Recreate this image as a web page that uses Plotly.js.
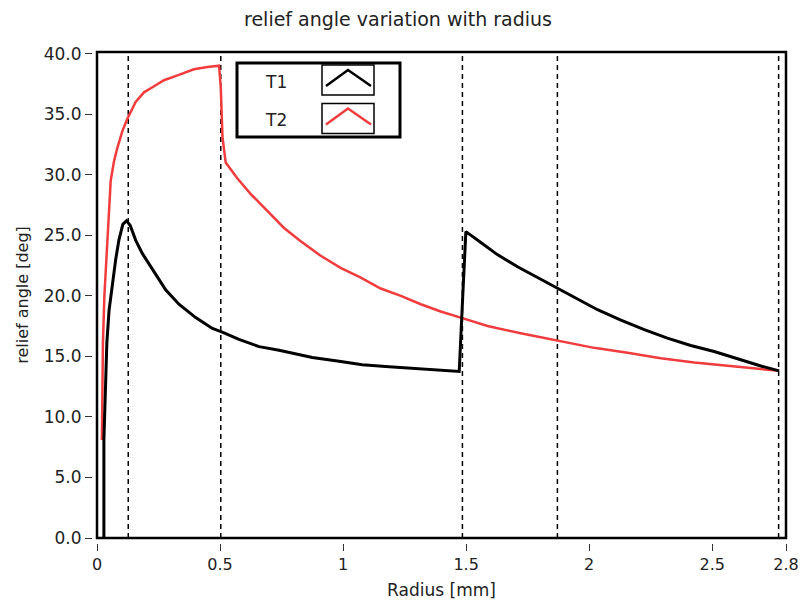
<!DOCTYPE html>
<html>
<head>
<meta charset="utf-8">
<script src="https://cdn.plot.ly/plotly-3.0.1.min.js"></script>
<style>html,body{margin:0;padding:0;background:#fff;}#chart{width:800px;height:606px;}</style>
</head>
<body>
<div id="chart"></div>
<script>
// ---- data ----
const seriesNames = ["T1", "T2"];

const t1Radius = [0.028, 0.028, 0.034, 0.04, 0.049, 0.062, 0.076, 0.089, 0.105, 0.12, 0.135, 0.157, 0.184, 0.225, 0.279, 0.333, 0.401, 0.469, 0.509, 0.577, 0.659, 0.74, 0.808, 0.875, 0.984, 1.078, 1.187, 1.282, 1.38, 1.472, 1.485, 1.492, 1.499, 1.56, 1.627, 1.709, 1.79, 1.871, 1.953, 2.034, 2.129, 2.224, 2.318, 2.413, 2.508, 2.603, 2.698, 2.772];
const t1Angle  = [0.0,   8.1,   12.1,  16.1, 18.8,  21.0,  23.0,  24.6,  25.9,  26.2, 25.8,  24.6,  23.5,  22.2,  20.5,  19.3,  18.2,  17.3,  17.0,  16.4,  15.8,  15.5, 15.2,  14.9,  14.6,  14.3,  14.15, 14.0,  13.85, 13.75, 19.4,  22.7,  25.3,  24.4, 23.4,  22.4,  21.5, 20.6,  19.7,  18.85, 18.0,  17.2,  16.5,  15.9,  15.4,  14.8,  14.2,  13.8];

const t2Radius = [0.02, 0.022, 0.024, 0.03, 0.04, 0.048, 0.0557, 0.069, 0.0825, 0.103, 0.123, 0.157, 0.191, 0.232, 0.272, 0.327, 0.394, 0.449, 0.496, 0.503, 0.51, 0.523, 0.57, 0.625, 0.692, 0.76, 0.828, 0.909, 0.99, 1.072, 1.153, 1.235, 1.316, 1.397, 1.478, 1.587, 1.722, 1.871, 2.02, 2.156, 2.291, 2.427, 2.562, 2.698, 2.772];
const t2Angle  = [8.1,  12.0,  16.0,  20.0, 23.7, 27.3,  29.5,   31.1,  32.2,   33.6,  34.6,  36.0,  36.8,  37.3,  37.8,  38.2,  38.7,  38.9,  39.0,  37.2,  33.1, 31.0,  29.7, 28.4,  27.0,  25.6, 24.5,  23.3,  22.3, 21.5,  20.6,  20.0,  19.3,  18.7,  18.2,  17.5,  16.9,  16.3,  15.7, 15.3,  14.85, 14.5,  14.2,  13.95, 13.8];

const cursorRadii = [0.127, 0.503, 1.485, 1.871, 2.77];

const xTickVals = [0, 0.5, 1, 1.5, 2, 2.5, 2.8];
const xTickText = ["0", "0.5", "1", "1.5", "2", "2.5", "2.8"];
const yTickVals = [0, 5, 10, 15, 20, 25, 30, 35, 40];
const yTickText = ["0.0", "5.0", "10.0", "15.0", "20.0", "25.0", "30.0", "35.0", "40.0"];

const seriesColors = ["#000000", "#f03c3c"];

// ---- layout geometry (pixels) ----
const W = 800, H = 606;
const mL = 92, mR = 14, mT = 52, mB = 63;
const pw = W - mL - mR, ph = H - mT - mB;
const px = v => (v - mL) / pw;
const py = v => (H - mB - v) / ph;

const font = "DejaVu Sans, Verdana, sans-serif";

const traces = [
  {x: t2Radius, y: t2Angle, name: seriesNames[1], mode: "lines",
   line: {color: seriesColors[1], width: 2.5}},
  {x: t1Radius, y: t1Angle, name: seriesNames[0], mode: "lines",
   line: {color: seriesColors[0], width: 3}}
];

const shapes = [];
cursorRadii.forEach(r => shapes.push({
  type: "line", xref: "x", yref: "y domain", x0: r, x1: r, y0: 0, y1: 1,
  line: {color: "#000", width: 1.5, dash: "5px,4px"}, layer: "below"
}));
// plot frame
shapes.push({type: "rect", xref: "x domain", yref: "y domain", x0: 0, x1: 1, y0: 0, y1: 1,
  line: {color: "#000", width: 2.5}, layer: "above"});
// legend box
shapes.push({type: "rect", xref: "paper", yref: "paper", x0: px(237), x1: px(400), y0: py(137), y1: py(63),
  line: {color: "#000", width: 3}, fillcolor: "#fff", layer: "above"});
const annotations = [];
seriesNames.forEach((nm, i) => {
  const cy = 80 + i * 38.5;
  shapes.push({type: "rect", xref: "paper", yref: "paper", x0: px(322), x1: px(374), y0: py(cy + 15), y1: py(cy - 15),
    line: {color: "#000", width: 1.5}, fillcolor: "#fff", layer: "above"});
  shapes.push({type: "path", xref: "paper", yref: "paper", layer: "above",
    path: `M ${px(326)} ${py(cy + 6)} L ${px(348)} ${py(cy - 10)} L ${px(371)} ${py(cy + 6)}`,
    line: {color: seriesColors[i], width: 2.5}});
  annotations.push({xref: "paper", yref: "paper", x: px(276), y: py(cy + 1.5), text: nm,
    showarrow: false, xanchor: "center", yanchor: "middle",
    font: {family: font, size: 17, color: "#222"}});
});

const layout = {
  width: W, height: H,
  margin: {l: mL, r: mR, t: mT, b: mB, pad: 0},
  paper_bgcolor: "#fff", plot_bgcolor: "#fff",
  showlegend: false,
  title: {text: "relief angle variation with radius", x: 398 / W, xref: "container", xanchor: "center",
          y: 1 - 19 / H, yref: "container", yanchor: "middle",
          font: {family: font, size: 19, color: "#222"}},
  xaxis: {
    range: [0, 2.8], domain: [5 / pw, 1], anchor: "free", position: 0,
    tickvals: xTickVals, ticktext: xTickText, ticklabeloverflow: "allow",
    ticks: "outside", ticklen: 7, tickwidth: 1, tickcolor: "#333",
    showgrid: false, zeroline: false, showline: false,
    tickfont: {family: font, size: 16, color: "#222"},
    title: {text: "Radius [mm]", font: {family: font, size: 17, color: "#222"}, standoff: 10}
  },
  yaxis: {
    range: [0, 40.13], domain: [5 / ph, 1], anchor: "free", position: 0,
    tickvals: yTickVals, ticktext: yTickText,
    ticks: "outside", ticklen: 7, tickwidth: 1, tickcolor: "#333",
    showgrid: false, zeroline: false, showline: false,
    tickfont: {family: font, size: 17, color: "#222"},
    title: {text: "relief angle [deg]", font: {family: font, size: 16, color: "#222"}, standoff: 10}
  },
  shapes: shapes,
  annotations: annotations
};

Plotly.newPlot("chart", traces, layout, {displayModeBar: false, staticPlot: true});
</script>
</body>
</html>
